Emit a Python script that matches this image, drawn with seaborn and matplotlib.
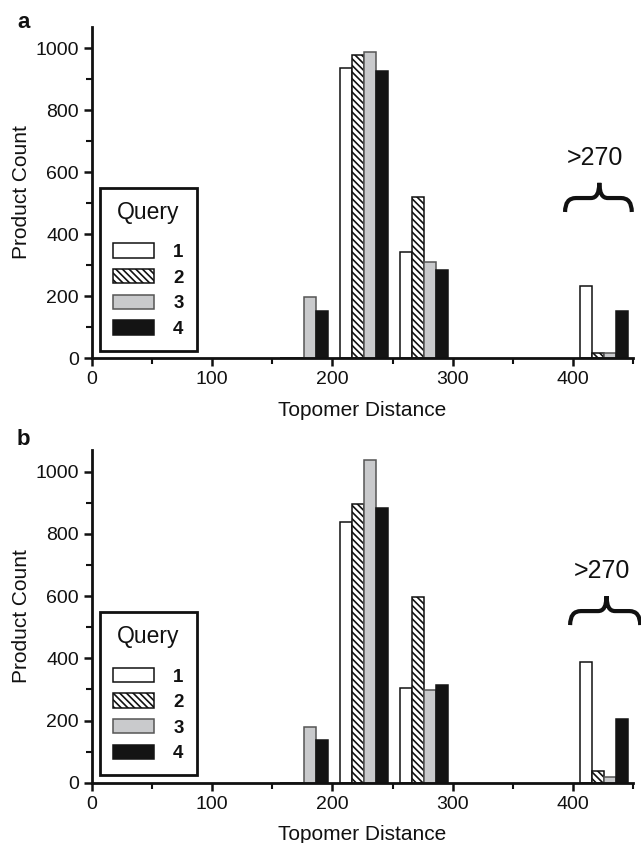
import matplotlib
matplotlib.use('Agg')
import matplotlib.pyplot as plt
import seaborn as sns
import pandas as pd
from matplotlib.path import Path
from matplotlib.patches import PathPatch
from matplotlib.ticker import MultipleLocator

# bin centres of the topomer distance groups
distance = [176, 226, 276, 426]
queries = ['1', '2', '3', '4']

# panel a: product counts per query
a_q1 = [0, 936, 344, 234]
a_q2 = [0, 978, 521, 18]
a_q3 = [197, 989, 312, 16]
a_q4 = [154, 926, 285, 153]

# panel b
b_q1 = [0, 839, 304, 388]
b_q2 = [0, 897, 598, 39]
b_q3 = [180, 1037, 297, 19]
b_q4 = [137, 882, 314, 204]

fills = {'1': 'white', '2': 'white', '3': '#c9cacc', '4': '#141414'}
edges = {'1': '#111111', '2': '#111111', '3': '#555555', '4': '#141414'}
hatches = {'1': '', '2': '\\\\\\\\\\', '3': '', '4': ''}

sns.set_style('ticks')
plt.rcParams['font.family'] = ['Liberation Sans', 'DejaVu Sans']
plt.rcParams['hatch.linewidth'] = 1.2
plt.rcParams['hatch.color'] = '#111111'
plt.rcParams['text.color'] = '#111111'
plt.rcParams['axes.labelcolor'] = '#111111'
plt.rcParams['xtick.color'] = '#111111'
plt.rcParams['ytick.color'] = '#111111'


def make_df(series):
    rows = []
    for q, vals in zip(queries, series):
        for d, v in zip(distance, vals):
            rows.append({'distance': d, 'count': v, 'query': q})
    return pd.DataFrame(rows)


def brace(ax, x0, x1, xt, y_end, y_mid, y_tip, r=9, rt=7):
    verts = [(x0, y_end), (x0, y_mid), (x0 + r, y_mid),
             (xt - rt, y_mid), (xt, y_mid), (xt, y_tip),
             (xt, y_mid), (xt + rt, y_mid),
             (x1 - r, y_mid), (x1, y_mid), (x1, y_end)]
    codes = [Path.MOVETO, Path.CURVE3, Path.CURVE3,
             Path.LINETO, Path.CURVE3, Path.CURVE3,
             Path.CURVE3, Path.CURVE3,
             Path.LINETO, Path.CURVE3, Path.CURVE3]
    p = PathPatch(Path(verts, codes), fill=False, lw=3, color='#111111',
                  clip_on=False, capstyle='butt', joinstyle='miter')
    ax.add_patch(p)


fig = plt.figure(figsize=(6.41, 8.43), dpi=100)
ax_a = fig.add_axes([0.1435, 0.575, 0.844, 0.3934])
ax_b = fig.add_axes([0.1435, 0.0715, 0.844, 0.3947])

panels = [
    (ax_a, [a_q1, a_q2, a_q3, a_q4], 'a', 0.9668,
     (393.5, 449, 422, 472, 517, 566), (418.5, 646)),
    (ax_b, [b_q1, b_q2, b_q3, b_q4], 'b', 0.472,
     (397.7, 456, 428, 507, 552, 600), (424, 681)),
]

for ax, series, tag, ty, br, txt in panels:
    df = make_df(series)
    sns.barplot(data=df, x='distance', y='count', hue='query',
                hue_order=queries, native_scale=True, palette=fills,
                saturation=1, errorbar=None, legend=False, ax=ax)
    for q, cont in zip(queries, ax.containers):
        for bar in cont.patches:
            bar.set_facecolor(fills[q])
            bar.set_edgecolor(edges[q])
            bar.set_linewidth(1.1)
            bar.set_hatch(hatches[q])

    ax.set_xlim(0, 450)
    ax.set_ylim(0, 1070)
    ax.xaxis.set_major_locator(MultipleLocator(100))
    ax.xaxis.set_minor_locator(MultipleLocator(50))
    ax.yaxis.set_major_locator(MultipleLocator(200))
    ax.yaxis.set_minor_locator(MultipleLocator(100))
    ax.tick_params(which='major', length=6, width=1.8, labelsize=14,
                   direction='out')
    ax.tick_params(which='minor', length=4, width=1.5, direction='out')
    sns.despine(ax=ax)
    for s in ['left', 'bottom']:
        ax.spines[s].set_linewidth(2)
        ax.spines[s].set_color('#111111')
    ax.set_xlabel('Topomer Distance', fontsize=15, labelpad=9)
    ax.set_ylabel('Product Count', fontsize=15, labelpad=3)

    leg = ax.legend(ax.containers, queries, title='Query', loc='lower left',
                    bbox_to_anchor=(0.015, 0.022), borderaxespad=0,
                    frameon=True, fancybox=False, framealpha=1,
                    edgecolor='#111111', prop={'weight': 'bold', 'size': 13.5},
                    title_fontsize=16.5, handlelength=2.2, handleheight=0.8,
                    handletextpad=1.0, labelspacing=0.42, borderpad=0.7)
    leg.get_frame().set_linewidth(2)
    # extra room between the title and the entries
    leg._legend_box.sep = 14

    brace(ax, *br)
    ax.text(txt[0], txt[1], '>270', fontsize=18, ha='center', va='center')

    fig.text(0.0265, ty, tag, fontsize=16, fontweight='bold', va='baseline')

fig.savefig('out.png', dpi=100)
